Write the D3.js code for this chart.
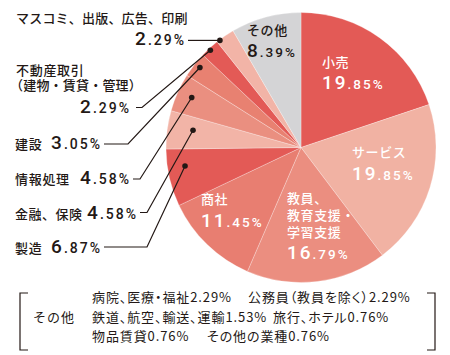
<!DOCTYPE html>
<html><head><meta charset="utf-8">
<script src="https://cdn.jsdelivr.net/npm/d3@7"></script>
<style>
html,body{margin:0;padding:0;background:#fff;}
svg{display:block;}
.palt{font-feature-settings:"palt";}
</style></head>
<body>
<svg id="chart" width="450" height="355"></svg>
<script>
// ---- data ----
const categories = ["小売","サービス","教員、教育支援・学習支援","商社","製造","金融、保険","情報処理","建設","不動産取引（建物・賃貸・管理）","マスコミ、出版、広告、印刷","その他"];
const values = [19.85,19.85,16.79,11.45,6.87,4.58,4.58,3.05,2.29,2.29,8.39];
const sliceColors = ["#E35A56","#F1B2A3","#EB8E80","#E87E71","#E35A56","#F2B4A7","#EA8F80","#E88171","#E35A56","#F2B4A7","#D4D4D6"];
const otherNames = ["病院、医療・福祉","公務員（教員を除く）","鉄道、航空、輸送、運輸","旅行、ホテル","物品賃貸","その他の業種"];
const otherValues = [2.29,2.29,1.53,0.76,0.76,0.76];

// ---- layout ----
const cx = 301, cy = 147.5, R = 135;
const ink = "#231815";
const jp = "'Noto Sans CJK JP','Noto Sans',sans-serif";
const num = "Roboto,'Noto Sans',sans-serif";

const svg = d3.select("#chart");
const g = svg.append("g").attr("transform", `translate(${cx},${cy})`);
const pie = d3.pie().sort(null).value(d => d.v).startAngle(0).endAngle(2*Math.PI);
const arcs = pie(values.map((v,i)=>({v, i, name: categories[i]})));
const arc = d3.arc().innerRadius(0).outerRadius(R);

g.selectAll("path.slice").data(arcs).join("path")
  .attr("class","slice")
  .attr("d", arc)
  .attr("fill", d => sliceColors[d.data.i])
  .attr("stroke", "rgba(255,255,255,0.45)")
  .attr("stroke-width", 0.6);

function numberText(sel, v, big, small, ls) {
  const s = v.toFixed(2).split(".");
  sel.append("tspan").attr("font-size", big).text(s[0]);
  sel.append("tspan").attr("font-size", small).text("." + s[1] + "%");
  sel.attr("letter-spacing", ls).attr("font-family", num).attr("font-weight", 500);
}

// inner labels
const innerLabels = [
  {i:0, x:322, lines:["小売"], ly:[67], ny:89, c:"#fff"},
  {i:1, x:352, lines:["サービス"], ly:[157], ny:180, c:"#fff"},
  {i:2, x:287, lines:["教員、","教育支援・","学習支援"], ly:[203,220,237], ny:259, c:"#fff"},
  {i:3, x:201, lines:["商社"], ly:[204], ny:227, c:"#fff"},
  {i:10, x:247, lines:["その他"], ly:[35], ny:57, c:ink}
];
innerLabels.forEach(L => {
  L.lines.forEach((t,k) => {
    svg.append("text").attr("x", L.x).attr("y", L.ly[k])
      .attr("font-family", jp).attr("font-size", 13).attr("font-weight", 500).attr("letter-spacing", 0.6)
      .attr("fill", L.c).text(t);
  });
  const t = svg.append("text").attr("x", L.x).attr("y", L.ny).attr("fill", L.c);
  numberText(t, values[L.i], 19, 13.5, 2);
});

// outside labels with leaders
const outside = [
  {i:9, names:[{t:"マスコミ、出版、広告、印刷", x:16, y:23, ls:0.2}], numEnd:186, ny:45, ly:39, hx0:188, hx1:null, t:0.16, f:0.995},
  {i:8, names:[{t:"不動産取引", x:16, y:75, ls:0.7},{t:"（建物・賃貸・管理）", x:10, y:90, ls:0.2}], numEnd:131, ny:113, ly:107.5, hx0:136, hx1:142, t:0.45, f:0.985},
  {i:7, names:[{t:"建設", x:15, y:148.5, ls:0.7}], numEnd:102, ny:149, ly:144, hx0:104, hx1:128, t:0.55, f:0.955},
  {i:6, names:[{t:"情報処理", x:15, y:183.5, ls:0.7}], numEnd:131, ny:184, ly:179, hx0:133, hx1:140, t:0.53, f:0.89},
  {i:5, names:[{t:"金融、保険", x:15, y:218.5, ls:0.5}], numEnd:138, ny:219, ly:212.5, hx0:140, hx1:147, t:0.59, f:0.81},
  {i:4, names:[{t:"製造", x:15, y:252.5, ls:0.7}], numEnd:102, ny:253, ly:247, hx0:104, hx1:147, t:0.66, f:0.87}
];
outside.forEach(O => {
  O.names.forEach(n => {
    svg.append("text").attr("x", n.x).attr("y", n.y)
      .attr("font-family", jp).attr("font-size", 13).attr("font-weight", 500).attr("letter-spacing", n.ls)
      .attr("fill", ink).text(n.t);
  });
  const t = svg.append("text").attr("x", O.numEnd).attr("y", O.ny).attr("fill", ink)
    .attr("text-anchor", "end");
  numberText(t, values[O.i], 19, 14, 2);
  const a = arcs[O.i];
  const ang = a.startAngle + O.t * (a.endAngle - a.startAngle);
  const p = d3.pointRadial(ang, R * O.f);
  const dot = [cx + p[0], cy + p[1]];
  const pts = O.hx1 === null ? [[O.hx0, dot[1]], dot] : [[O.hx0, O.ly], [O.hx1, O.ly], dot];
  svg.append("path").attr("d", d3.line()(pts)).attr("fill","none")
    .attr("stroke", ink).attr("stroke-width", 1.2);
  svg.append("circle").attr("cx", dot[0]).attr("cy", dot[1]).attr("r", 2.8).attr("fill", ink);
});

// bottom note
svg.append("path").attr("d","M28,293H20V350H28").attr("fill","none").attr("stroke",ink).attr("stroke-width",1.2);
svg.append("path").attr("d","M427,293H435V350H427").attr("fill","none").attr("stroke",ink).attr("stroke-width",1.2);
svg.append("text").attr("x",33).attr("y",322).attr("font-family",jp).attr("font-size",13)
  .attr("letter-spacing", 1).attr("fill",ink).text("その他");
const rows = [[0,1],[2,3],[4,5]];
const rowY = [301.5, 321.5, 341];
const colX = [[92,248],[92,273],[92,207]];
rows.forEach((r,ri) => {
  r.forEach((idx,ci) => {
    svg.append("text").attr("class","palt").attr("x", colX[ri][ci]).attr("y", rowY[ri])
      .attr("font-family", jp).attr("font-size", 13).attr("letter-spacing", 0.9).attr("fill", ink)
      .text(otherNames[idx] + otherValues[idx].toFixed(2) + "%");
  });
});
</script>
</body></html>
